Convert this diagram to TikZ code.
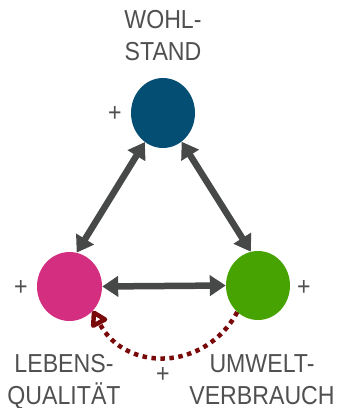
\documentclass[tikz,border=0pt]{standalone}
\usepackage{fontspec}
\setmainfont[FakeStretch=0.89]{Liberation Sans}
\usetikzlibrary{shapes.geometric,arrows.meta}
\definecolor{txtgray}{HTML}{505050}
\definecolor{arrgray}{HTML}{474948}
\definecolor{cblue}{HTML}{044E73}
\definecolor{cpink}{HTML}{D42E80}
\definecolor{cgreen}{HTML}{46A301}
\definecolor{cred}{HTML}{7A0A0A}
\tikzset{
  ball/.style={ellipse, inner sep=0pt, minimum width=64pt, minimum height=70pt},
  lbl/.style={text=txtgray, font=\fontsize{26}{32}\selectfont, align=center, inner sep=0pt},
  plus/.style={text=txtgray, font=\fontsize{26}{30}\selectfont, inner sep=0pt},
  biarrow/.style={draw=arrgray, line width=6.5pt, {Triangle[width=20pt,length=16pt]}-{Triangle[width=20pt,length=16pt]}},
  dotarrow/.style={draw=cred, line width=4.5pt, dash pattern=on 4.5pt off 4.5pt, -{Triangle[open,width=20pt,length=18pt,line width=4.5pt,round]}}
}
\begin{document}
\begin{tikzpicture}[x=1pt,y=-1pt]
\useasboundingbox (0,0) rectangle (338,408);
\node[ball, fill=cblue] (blue) at (163,113) {};
\node[ball, fill=cpink, minimum width=65pt, minimum height=69pt] (pink) at (69.5,286.5) {};
\node[ball, fill=cgreen, minimum width=64pt, minimum height=69pt] (green) at (258,285.5) {};
\node[lbl, anchor=base] (wohl) at (163,60) {WOHL-\\STAND};
\node[lbl, anchor=base] (leb) at (64,404) {LEBENS-\\QUALITÄT};
\node[lbl, anchor=base] (umw) at (262,404) {UMWELT-\\VERBRAUCH};
\node[plus] (p1) at (115,114) {+};
\node[plus] (p2) at (21,288) {+};
\node[plus] (p3) at (304,288) {+};
\node[plus] (p4) at (163,375) {+};
\draw[biarrow] (pink.east) -- (green.west);
\draw[biarrow] (pink.78) -- (blue.238);
\draw[biarrow] (blue.303) -- (green.102);
\draw[dotarrow] (green.232) .. controls (205,372) and (125,372) .. (pink.314);
\end{tikzpicture}
\end{document}
